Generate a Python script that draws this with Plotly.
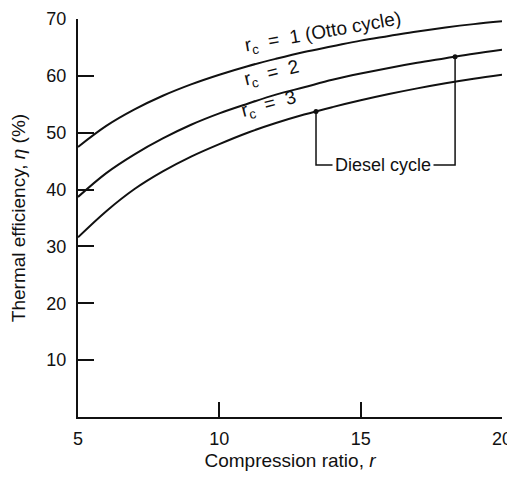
import numpy as np
import plotly.graph_objects as go

# ---- data ----
r_values = [5, 6, 7, 8, 9, 10, 11, 12, 13, 14, 15, 16, 17, 18, 19, 20]
eta_otto = [47.5, 51.2, 54.1, 56.5, 58.5, 60.2, 61.7, 63.0, 64.2, 65.2, 66.2, 67.0, 67.8, 68.5, 69.1, 69.6]
eta_rc2 = [38.7, 42.9, 46.2, 49.0, 51.4, 53.4, 55.1, 56.7, 58.0, 59.3, 60.4, 61.4, 62.3, 63.1, 63.9, 64.6]
eta_rc3 = [31.6, 36.2, 40.1, 43.2, 45.8, 48.0, 50.0, 51.7, 53.2, 54.5, 55.7, 56.8, 57.8, 58.7, 59.5, 60.2]

x_tick_vals = [5, 10, 15, 20]
y_tick_vals = [10, 20, 30, 40, 50, 60, 70]

diesel_r_left = 13.42    # marked point on r_c = 3 curve
diesel_r_right = 18.34   # marked point on r_c = 2 curve
diesel_eta_level = 44.3  # level of the "Diesel cycle" bracket

labels = [
    dict(text="r<sub>c</sub>  =  1 (Otto cycle)", r=13.65, eta=67.6, angle=-10),
    dict(text="r<sub>c</sub>  =  2", r=11.85, eta=60.3, angle=-14),
    dict(text="r<sub>c</sub>  =  3", r=11.75, eta=54.9, angle=-15),
]

FONT = "Liberation Sans"
BLACK = "#111111"

fig = go.Figure()
for ys in (eta_otto, eta_rc2, eta_rc3):
    fig.add_trace(go.Scatter(x=r_values, y=ys, mode="lines",
                             line=dict(color=BLACK, width=2, shape="spline"),
                             showlegend=False, hoverinfo="skip"))

y_left = float(np.interp(diesel_r_left, r_values, eta_rc3))
y_right = float(np.interp(diesel_r_right, r_values, eta_rc2))
fig.add_trace(go.Scatter(
    x=[diesel_r_left, diesel_r_left, diesel_r_right, diesel_r_right],
    y=[y_left, diesel_eta_level, diesel_eta_level, y_right],
    mode="lines", line=dict(color=BLACK, width=1.5),
    showlegend=False, hoverinfo="skip"))
fig.add_trace(go.Scatter(
    x=[diesel_r_left, diesel_r_right], y=[y_left, y_right],
    mode="markers", marker=dict(color=BLACK, size=5),
    showlegend=False, hoverinfo="skip"))

fig.add_annotation(x=(diesel_r_left + diesel_r_right) / 2 - 0.1, y=diesel_eta_level,
                   text="Diesel cycle", showarrow=False, bgcolor="white",
                   borderpad=2, font=dict(family=FONT, size=18, color=BLACK))

for lab in labels:
    fig.add_annotation(x=lab["r"], y=lab["eta"], text=lab["text"], showarrow=False,
                       textangle=lab["angle"],
                       font=dict(family=FONT, size=19, color=BLACK))

fig.update_xaxes(range=[5, 20], tickvals=x_tick_vals, ticks="inside", ticklen=15,
                 tickwidth=1.5, tickcolor=BLACK, showline=True, linewidth=2,
                 linecolor=BLACK, showgrid=False, zeroline=False, automargin=False,
                 ticklabelstandoff=4, ticklabeloverflow="allow",
                 tickfont=dict(family=FONT, size=18, color=BLACK),
                 title=dict(text="Compression ratio, <i>r</i>", standoff=6,
                            font=dict(family=FONT, size=19, color=BLACK)))
fig.update_yaxes(range=[0, 70], tickvals=y_tick_vals, ticks="inside", ticklen=16,
                 tickwidth=1.5, tickcolor=BLACK, showline=True, linewidth=2,
                 linecolor=BLACK, showgrid=False, zeroline=False, automargin=False,
                 ticklabelstandoff=6,
                 tickfont=dict(family=FONT, size=18, color=BLACK),
                 title=dict(text="Thermal efficiency, <i>η</i> (%)", standoff=16,
                            font=dict(family=FONT, size=19, color=BLACK)))

# page body has an 8px default margin, so the figure is sized to fit the window
fig.update_layout(width=507, height=463, plot_bgcolor="white", paper_bgcolor="white",
                  margin=dict(l=70, r=13, t=11, b=54), showlegend=False)

fig.write_html("out.html")
